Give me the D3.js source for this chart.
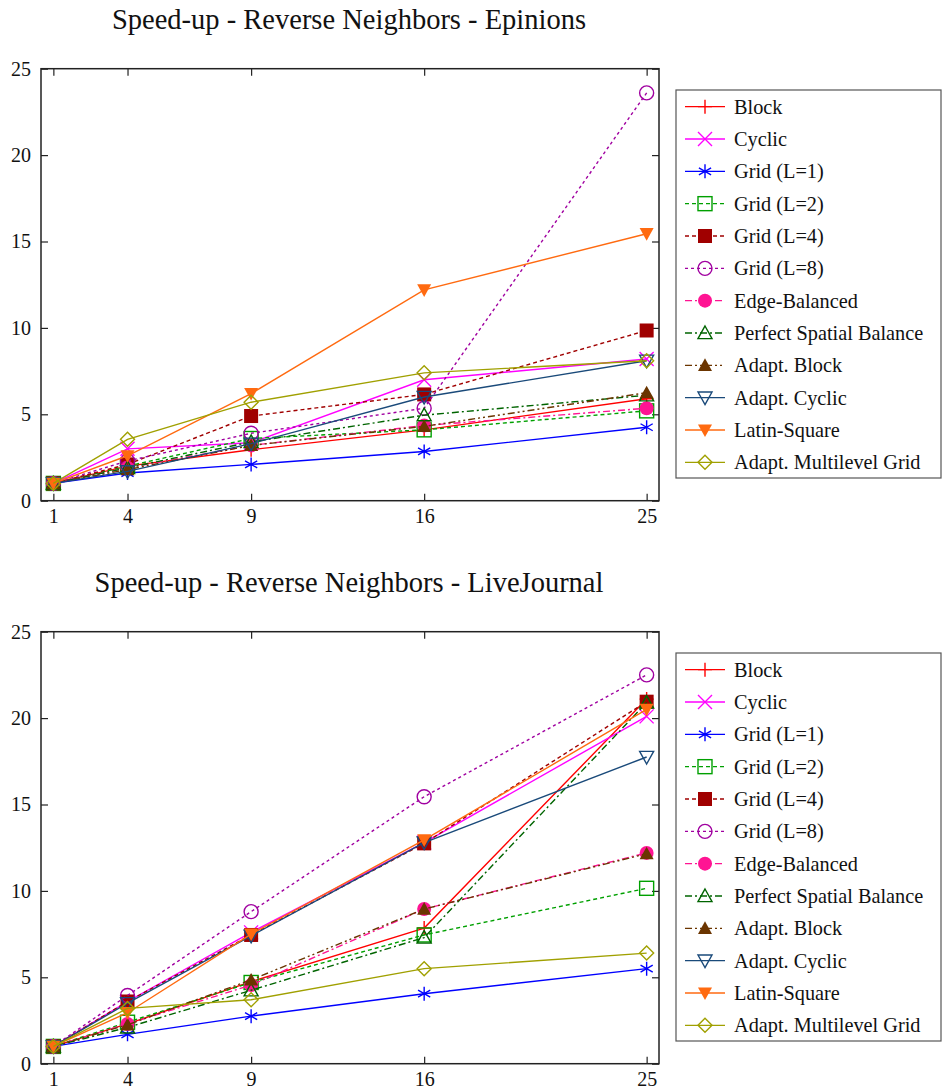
<!DOCTYPE html>
<html>
<head>
<meta charset="utf-8">
<script src="https://cdn.jsdelivr.net/npm/d3@7"></script>
<style>
  html, body { margin: 0; padding: 0; background: #fff; }
  svg text { font-family: "Liberation Serif", "Times New Roman", serif; fill: #111; }
</style>
</head>
<body>
<svg id="chart" width="942" height="1090"></svg>
<script>
// Number of processors on the x axis
const processors = [1, 4, 9, 16, 25];
const yTicks = [0, 5, 10, 15, 20, 25];

const seriesNames = [
  "Block", "Cyclic", "Grid (L=1)", "Grid (L=2)", "Grid (L=4)", "Grid (L=8)",
  "Edge-Balanced", "Perfect Spatial Balance", "Adapt. Block", "Adapt. Cyclic",
  "Latin-Square", "Adapt. Multilevel Grid"
];

// Speed-up on Epinions
const epBlock   = [1, 2.0, 2.95, 4.1, 5.9];
const epCyclic  = [1, 3.0, 3.35, 7.0, 8.2];
const epGrid1   = [1, 1.6, 2.1, 2.85, 4.25];
const epGrid2   = [1, 2.0, 3.6, 4.1, 5.2];
const epGrid4   = [1, 2.1, 4.9, 6.15, 9.85];
const epGrid8   = [1, 2.3, 3.9, 5.35, 23.6];
const epEdge    = [1, 1.9, 3.2, 4.35, 5.35];
const epPerfect = [1, 1.9, 3.4, 4.95, 6.1];
const epABlock  = [1, 1.8, 3.2, 4.3, 6.25];
const epACyclic = [1, 1.7, 3.3, 6.0, 8.1];
const epLatin   = [1, 2.6, 6.2, 12.2, 15.45];
const epAMG     = [1, 3.55, 5.7, 7.4, 8.1];

// Speed-up on LiveJournal
const ljBlock   = [1, 2.3, 4.75, 7.85, 21.1];
const ljCyclic  = [1, 3.6, 7.6, 12.8, 20.1];
const ljGrid1   = [1, 1.7, 2.75, 4.05, 5.5];
const ljGrid2   = [1, 2.4, 4.7, 7.45, 10.15];
const ljGrid4   = [1, 3.6, 7.45, 12.75, 20.95];
const ljGrid8   = [1, 3.95, 8.8, 15.45, 22.5];
const ljEdge    = [1, 2.3, 4.55, 8.95, 12.2];
const ljPerfect = [1, 2.1, 4.25, 7.3, 20.9];
const ljABlock  = [1, 2.25, 4.85, 8.95, 12.15];
const ljACyclic = [1, 3.5, 7.4, 12.8, 17.75];
const ljLatin   = [1, 2.95, 7.5, 12.95, 20.5];
const ljAMG     = [1, 3.2, 3.7, 5.5, 6.4];

// Line and marker style per series
const styles = [
  { color: "#ff0000", dash: null,        marker: "plus" },
  { color: "#ff00ff", dash: null,        marker: "cross" },
  { color: "#0000ff", dash: null,        marker: "star" },
  { color: "#00a000", dash: "4,3",       marker: "square" },
  { color: "#a00000", dash: "4,3",       marker: "squareFilled" },
  { color: "#a000a0", dash: "3,3",       marker: "circle" },
  { color: "#ff1493", dash: "7,3,2,3",   marker: "circleFilled" },
  { color: "#006400", dash: "7,3,2,3",   marker: "triangle" },
  { color: "#6b3500", dash: "7,3,2,3,2,3", marker: "triangleFilled" },
  { color: "#1a4a7a", dash: null,        marker: "triangleDown" },
  { color: "#ff6a10", dash: null,        marker: "triangleDownFilled" },
  { color: "#a0a000", dash: null,        marker: "diamond" }
];

const panels = [
  { title: "Speed-up - Reverse Neighbors - Epinions", titleY: 29, top: 68.7, bottom: 500.7,
    legendTop: 90, legendBottom: 478,
    values: [epBlock, epCyclic, epGrid1, epGrid2, epGrid4, epGrid8, epEdge, epPerfect, epABlock, epACyclic, epLatin, epAMG] },
  { title: "Speed-up - Reverse Neighbors - LiveJournal", titleY: 592, top: 631.7, bottom: 1063.7,
    legendTop: 653, legendBottom: 1041,
    values: [ljBlock, ljCyclic, ljGrid1, ljGrid2, ljGrid4, ljGrid8, ljEdge, ljPerfect, ljABlock, ljACyclic, ljLatin, ljAMG] }
];

const svg = d3.select("#chart");
const plotLeft = 41, plotRight = 659;
const x = d3.scaleLinear().domain([0.5, 25.5]).range([plotLeft, plotRight]);

function drawMarker(g, type, cx, cy, color) {
  const s = 7;
  const m = g.append("g").attr("transform", `translate(${cx},${cy})`);
  const stroke = { stroke: color, "stroke-width": 1.4, fill: "none" };
  const apply = (el, attrs) => { for (const k in attrs) el.attr(k, attrs[k]); return el; };
  switch (type) {
    case "plus":
      apply(m.append("path").attr("d", `M${-s},0H${s}M0,${-s}V${s}`), stroke); break;
    case "cross":
      apply(m.append("path").attr("d", `M${-s},${-s}L${s},${s}M${-s},${s}L${s},${-s}`), stroke); break;
    case "star": {
      const a = s * 0.87, b = s * 0.5;
      apply(m.append("path").attr("d", `M0,${-s}V${s}M${-a},${-b}L${a},${b}M${-a},${b}L${a},${-b}`), stroke); break;
    }
    case "square":
      apply(m.append("rect").attr("x", -s).attr("y", -s).attr("width", 2 * s).attr("height", 2 * s), stroke); break;
    case "squareFilled":
      m.append("rect").attr("x", -s).attr("y", -s).attr("width", 2 * s).attr("height", 2 * s).attr("fill", color); break;
    case "circle":
      apply(m.append("circle").attr("r", s), stroke); break;
    case "circleFilled":
      m.append("circle").attr("r", s).attr("fill", color); break;
    case "triangle":
      apply(m.append("path").attr("d", `M0,${-s}L${s},${s * 0.8}L${-s},${s * 0.8}Z`), stroke); break;
    case "triangleFilled":
      m.append("path").attr("d", `M0,${-s}L${s},${s * 0.8}L${-s},${s * 0.8}Z`).attr("fill", color); break;
    case "triangleDown":
      apply(m.append("path").attr("d", `M0,${s}L${s},${-s * 0.8}L${-s},${-s * 0.8}Z`), stroke); break;
    case "triangleDownFilled":
      m.append("path").attr("d", `M0,${s}L${s},${-s * 0.8}L${-s},${-s * 0.8}Z`).attr("fill", color); break;
    case "diamond":
      apply(m.append("path").attr("d", `M0,${-s}L${s},0L0,${s}L${-s},0Z`), stroke); break;
  }
}

panels.forEach(p => {
  const y = d3.scaleLinear().domain([0, 25]).range([p.bottom, p.top]);
  const g = svg.append("g");

  g.append("text").attr("x", 349).attr("y", p.titleY).attr("text-anchor", "middle")
    .attr("font-size", 28.5).text(p.title);

  // Axes with inward ticks on all four sides
  const tickLen = 7;
  g.append("g").attr("transform", `translate(${plotLeft},0)`)
    .call(d3.axisLeft(y).tickValues(yTicks).tickSize(-tickLen).tickPadding(10));
  g.append("g").attr("transform", `translate(${plotRight},0)`)
    .call(d3.axisRight(y).tickValues(yTicks).tickSize(-tickLen).tickFormat(""));
  g.append("g").attr("transform", `translate(0,${p.bottom})`)
    .call(d3.axisBottom(x).tickValues(processors).tickSize(-tickLen).tickPadding(8));
  g.append("g").attr("transform", `translate(0,${p.top})`)
    .call(d3.axisTop(x).tickValues(processors).tickSize(-tickLen).tickFormat(""));
  g.selectAll(".domain").remove();
  g.selectAll(".tick line").attr("stroke", "#222").attr("stroke-width", 1.2);
  g.selectAll(".tick text").attr("font-family", "Liberation Serif, serif").attr("font-size", 20).attr("fill", "#111");

  // Series
  const line = d3.line().x((d, i) => x(processors[i])).y(d => y(d));
  p.values.forEach((vals, si) => {
    const st = styles[si];
    const sg = g.append("g");
    sg.append("path").attr("d", line(vals)).attr("fill", "none")
      .attr("stroke", st.color).attr("stroke-width", 1.4)
      .attr("stroke-dasharray", st.dash);
    vals.forEach((v, i) => drawMarker(sg, st.marker, x(processors[i]), y(v), st.color));
  });

  // Plot frame
  g.append("rect").attr("x", plotLeft).attr("y", p.top)
    .attr("width", plotRight - plotLeft).attr("height", p.bottom - p.top)
    .attr("fill", "none").attr("stroke", "#222").attr("stroke-width", 1.5);

  // Legend
  const lg = g.append("g");
  lg.append("rect").attr("x", 676).attr("y", p.legendTop)
    .attr("width", 265).attr("height", p.legendBottom - p.legendTop)
    .attr("fill", "#fff").attr("stroke", "#555").attr("stroke-width", 1.2);
  const rowH = (p.legendBottom - p.legendTop) / seriesNames.length;
  seriesNames.forEach((name, si) => {
    const st = styles[si];
    const cy = p.legendTop + rowH * (si + 0.5) + 0.5;
    lg.append("line").attr("x1", 685).attr("x2", 725).attr("y1", cy).attr("y2", cy)
      .attr("stroke", st.color).attr("stroke-width", 1.4).attr("stroke-dasharray", st.dash);
    drawMarker(lg, st.marker, 705, cy, st.color);
    lg.append("text").attr("x", 734).attr("y", cy).attr("dy", "0.35em")
      .attr("font-size", 20.3).text(name);
  });
});
</script>
</body>
</html>
